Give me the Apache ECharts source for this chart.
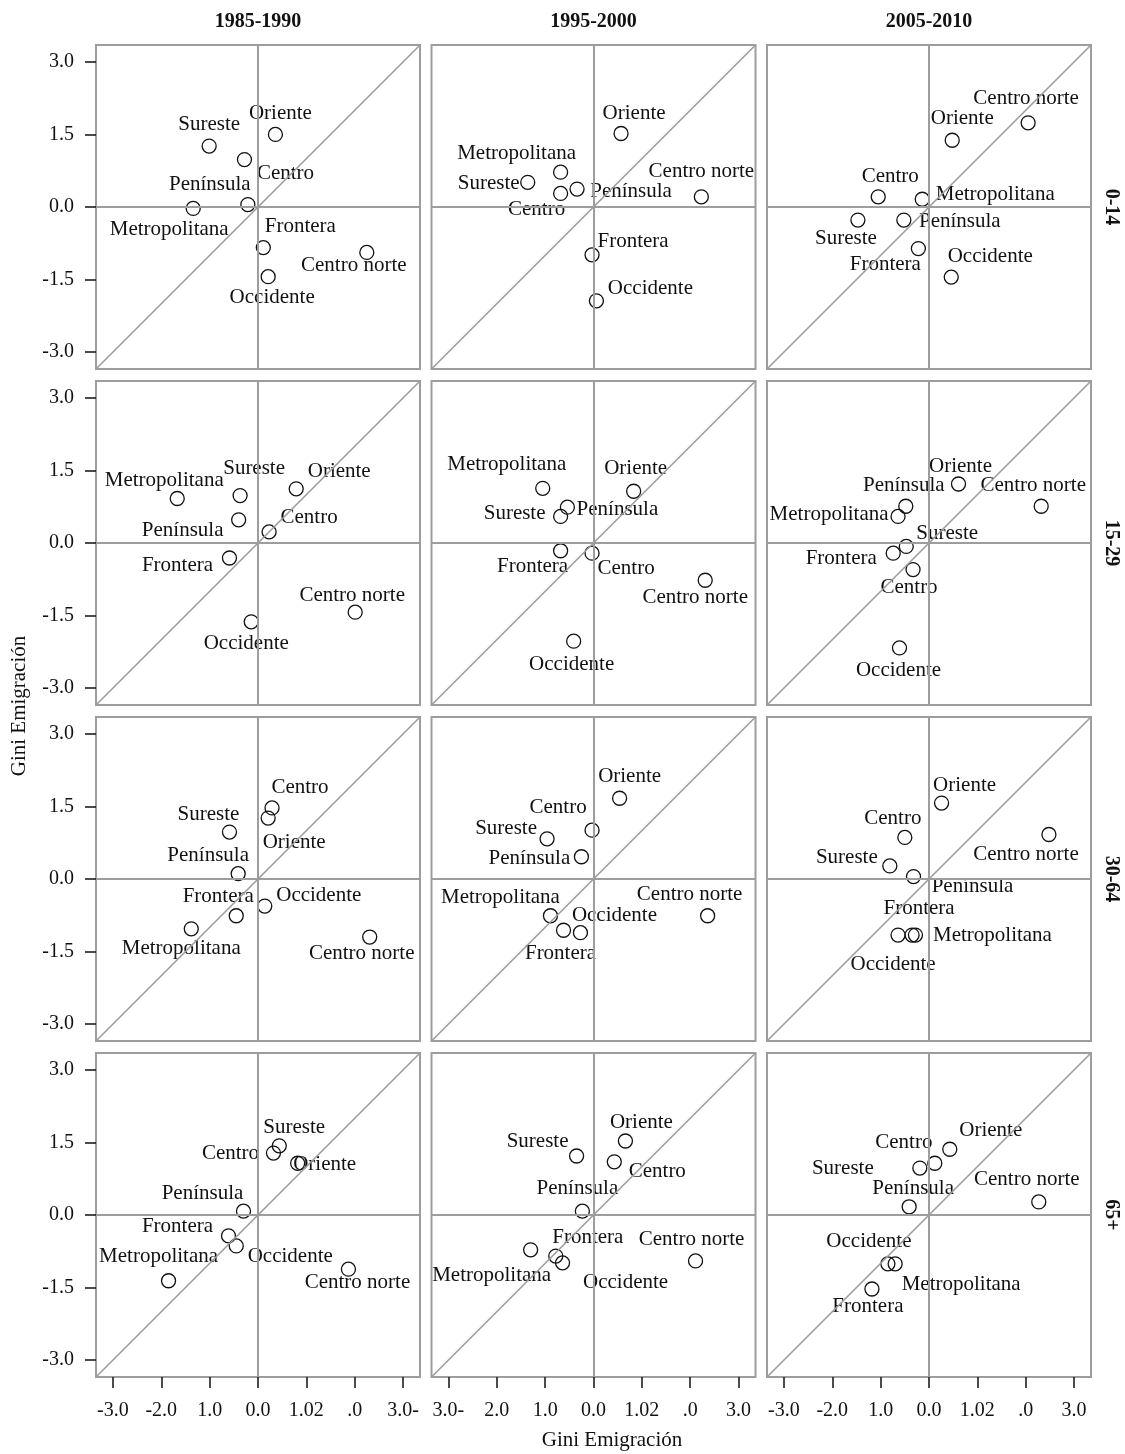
<!DOCTYPE html>
<html>
<head>
<meta charset="utf-8">
<script src="https://cdn.jsdelivr.net/npm/echarts@6/dist/echarts.min.js"></script>
<style>
html,body{margin:0;padding:0;background:#fff;}
#chart{width:1125px;height:1454px;}
</style>
</head>
<body>
<div id="chart"></div>
<script>
// ---------- DATA ----------
const regions = ['Centro','Centro norte','Frontera','Metropolitana','Occidente','Oriente','Península','Sureste'];
const periods = ['1985-1990','1995-2000','2005-2010'];
const ageGroups = ['0-14','15-29','30-64','65+'];
const axisTitle = 'Gini Emigración';

const yTickValues = [-3, -1.5, 0, 1.5, 3];
const yTickLabels = ['-3.0','-1.5','0.0','1.5','3.0'];
const xTickValues = [-3, -2, -1, 0, 1, 2, 3];
const xTickLabelsP1 = ['-3.0','-2.0','1.0','0.0','1.02','.0','3.0-'];
const xTickLabelsP2 = ['3.0-','2.0','1.0','0.0','1.02','.0','3.0'];
const xTickLabelsP3 = ['-3.0','-2.0','1.0','0.0','1.02','.0','3.0'];

// values in region order: Centro, Centro norte, Frontera, Metropolitana, Occidente, Oriente, Península, Sureste
const x_0_14_1985 = [-0.28, 2.25, 0.11, -1.34, 0.21, 0.36, -0.21, -1.01];
const y_0_14_1985 = [0.98, -0.94, -0.84, -0.03, -1.44, 1.50, 0.05, 1.26];
const x_0_14_1995 = [-0.68, 2.23, -0.03, -0.68, 0.06, 0.57, -0.34, -1.36];
const y_0_14_1995 = [0.28, 0.21, -0.99, 0.72, -1.94, 1.52, 0.37, 0.51];
const x_0_14_2005 = [-1.05, 2.05, -0.22, -0.14, 0.46, 0.48, -0.52, -1.47];
const y_0_14_2005 = [0.21, 1.74, -0.86, 0.16, -1.45, 1.38, -0.27, -0.27];

const x_15_29_1985 = [0.23, 2.01, -0.59, -1.67, -0.14, 0.79, -0.40, -0.37];
const y_15_29_1985 = [0.23, -1.43, -0.31, 0.92, -1.63, 1.12, 0.48, 0.98];
const x_15_29_1995 = [-0.03, 2.31, -0.68, -1.05, -0.41, 0.83, -0.54, -0.68];
const y_15_29_1995 = [-0.21, -0.77, -0.16, 1.13, -2.03, 1.07, 0.74, 0.55];
const x_15_29_2005 = [-0.33, 2.32, -0.74, -0.64, -0.61, 0.61, -0.48, -0.47];
const y_15_29_2005 = [-0.55, 0.76, -0.21, 0.55, -2.17, 1.22, 0.76, -0.07];

const x_30_64_1985 = [0.29, 2.31, -0.45, -1.38, 0.14, 0.21, -0.41, -0.59];
const y_30_64_1985 = [1.47, -1.20, -0.76, -1.03, -0.56, 1.26, 0.11, 0.97];
const x_30_64_1995 = [-0.03, 2.36, -0.62, -0.89, -0.27, 0.54, -0.25, -0.96];
const y_30_64_1995 = [1.01, -0.76, -1.06, -0.76, -1.11, 1.67, 0.46, 0.83];
const x_30_64_2005 = [-0.50, 2.48, -0.35, -0.28, -0.64, 0.26, -0.32, -0.81];
const y_30_64_2005 = [0.86, 0.92, -1.16, -1.16, -1.16, 1.57, 0.05, 0.27];

const x_65_1985 = [0.32, 1.87, -0.61, -1.85, -0.45, 0.82, -0.30, 0.44];
const y_65_1985 = [1.28, -1.12, -0.43, -1.36, -0.64, 1.07, 0.08, 1.43];
const x_65_1995 = [0.43, 2.11, -0.78, -1.30, -0.64, 0.66, -0.23, -0.35];
const y_65_1995 = [1.10, -0.95, -0.85, -0.72, -0.99, 1.53, 0.08, 1.22];
const x_65_2005 = [0.12, 2.27, -1.18, -0.70, -0.85, 0.43, -0.41, -0.19];
const y_65_2005 = [1.07, 0.27, -1.53, -1.01, -1.01, 1.36, 0.17, 0.97];

// ---------- LABEL PLACEMENT (pixel offsets of each name from its circle) ----------
const off_0_14_1985 = [[41,14],[-13,13],[37,-21],[-24,21],[4,21],[5,-21],[-38,-20],[0,-22]];
const off_0_14_1995 = [[-24,16],[0,-25],[41,-13],[-44,-19],[54,-12],[13,-20],[54,2],[-39,1]];
const off_0_14_2005 = [[12,-20],[-2,-24],[-33,16],[73,-5],[39,-21],[10,-22],[56,1],[-12,18]];
const off_15_29_1985 = [[40,-14],[-3,-17],[-52,7],[-13,-18],[-5,22],[43,-17],[-56,11],[14,-27]];
const off_15_29_1995 = [[34,15],[-10,17],[-28,16],[-36,-24],[-2,23],[2,-23],[50,2],[-46,-3]];
const off_15_29_2005 = [[-4,18],[-8,-21],[-52,5],[-69,-2],[-1,23],[2,-18],[-2,-21],[41,-13]];
const off_30_64_1985 = [[28,-20],[-8,16],[-18,-19],[-10,20],[54,-11],[26,24],[-30,-18],[-21,-18]];
const off_30_64_1995 = [[-34,-23],[-18,-21],[-3,23],[-50,-18],[34,-17],[10,-22],[-52,2],[-41,-10]];
const off_30_64_2005 = [[-12,-19],[-23,20],[7,-27],[77,0],[-5,29],[23,-18],[59,10],[-43,-8]];
const off_65_1985 = [[-43,0],[9,13],[-51,-9],[-10,-24],[54,11],[27,1],[-41,-18],[15,-18]];
const off_65_1995 = [[43,10],[-4,-21],[32,-19],[-39,26],[63,20],[16,-19],[-5,-23],[-39,-15]];
const off_65_2005 = [[-31,-21],[-12,-22],[-4,17],[66,21],[-19,-22],[41,-19],[4,-18],[-77,0]];

const panels = [
  [[x_0_14_1985,y_0_14_1985,off_0_14_1985],[x_0_14_1995,y_0_14_1995,off_0_14_1995],[x_0_14_2005,y_0_14_2005,off_0_14_2005]],
  [[x_15_29_1985,y_15_29_1985,off_15_29_1985],[x_15_29_1995,y_15_29_1995,off_15_29_1995],[x_15_29_2005,y_15_29_2005,off_15_29_2005]],
  [[x_30_64_1985,y_30_64_1985,off_30_64_1985],[x_30_64_1995,y_30_64_1995,off_30_64_1995],[x_30_64_2005,y_30_64_2005,off_30_64_2005]],
  [[x_65_1985,y_65_1985,off_65_1985],[x_65_1995,y_65_1995,off_65_1995],[x_65_2005,y_65_2005,off_65_2005]]
];
const xTickLabelSets = [xTickLabelsP1, xTickLabelsP2, xTickLabelsP3];

// ---------- LAYOUT / STYLE ----------
const R = 3.35;
const FONT = '"Liberation Serif", "DejaVu Serif", serif';
const INK = '#111111';
const GRAY = '#9d9d9d';
const colLeft = [96, 431.5, 767];
const rowTop = [45, 381, 717, 1053];
const SIZE = 324;

const grids = [], xAxes = [], yAxes = [], series = [];
let idx = 0;
for (let r = 0; r < 4; r++) {
  for (let c = 0; c < 3; c++) {
    grids.push({
      left: colLeft[c], top: rowTop[r], width: SIZE, height: SIZE,
      show: true, borderColor: GRAY, borderWidth: 2, backgroundColor: 'transparent', containLabel: false
    });
    const labs = xTickLabelSets[c];
    xAxes.push({
      type: 'value', gridIndex: idx, min: -R, max: R, position: 'bottom',
      axisLine: { show: false, onZero: false }, splitLine: { show: false },
      axisTick: { show: r === 3, length: 11, lineStyle: { color: INK, width: 1.5 }, customValues: xTickValues },
      axisLabel: {
        show: r === 3, margin: 24, color: INK, fontFamily: FONT, fontSize: 20,
        customValues: xTickValues,
        formatter: function (v) { const i = xTickValues.indexOf(Math.round(v)); return i >= 0 ? labs[i] : ''; }
      }
    });
    yAxes.push({
      type: 'value', gridIndex: idx, min: -R, max: R, position: 'left',
      axisLine: { show: false, onZero: false }, splitLine: { show: false },
      axisTick: { show: c === 0, length: 11, lineStyle: { color: INK, width: 1.5 }, customValues: yTickValues },
      axisLabel: {
        show: c === 0, margin: 22, color: INK, fontFamily: FONT, fontSize: 20,
        customValues: yTickValues,
        formatter: function (v) { const i = yTickValues.indexOf(v); return i >= 0 ? yTickLabels[i] : ''; }
      }
    });
    const [xs, ys, offs] = panels[r][c];
    const data = regions.map((name, k) => ({
      name: name,
      value: [xs[k], ys[k]],
      label: { offset: offs[k] }
    }));
    series.push({
      type: 'scatter', xAxisIndex: idx, yAxisIndex: idx,
      symbol: 'circle', symbolSize: 14,
      itemStyle: { color: 'rgba(255,255,255,0)', borderColor: '#111', borderWidth: 1.3, opacity: 1 },
      label: {
        show: true, position: 'inside', formatter: '{b}', opacity: 1,
        color: INK, textBorderWidth: 0, textBorderColor: 'transparent',
        fontFamily: FONT, fontSize: 21, align: 'center', verticalAlign: 'middle'
      },
      emphasis: { disabled: true },
      silent: true,
      data: data,
      markLine: {
        silent: true, symbol: ['none', 'none'], animation: false,
        label: { show: false },
        lineStyle: { color: GRAY, width: 2, type: 'solid' },
        data: [
          { xAxis: 0 },
          { yAxis: 0 },
          [{ coord: [-R, -R], lineStyle: { width: 1.6 } }, { coord: [R, R] }]
        ]
      }
    });
    idx++;
  }
}

const graphics = [];
periods.forEach((p, c) => {
  graphics.push({ type: 'text', x: colLeft[c] + SIZE / 2, y: 22,
    style: { text: p, x: 0, y: 0, textAlign: 'center', textVerticalAlign: 'middle', font: 'bold 20px ' + FONT, fill: INK } });
});
ageGroups.forEach((a, r) => {
  graphics.push({ type: 'text', x: 1111, y: rowTop[r] + SIZE / 2, rotation: -Math.PI / 2,
    style: { text: a, x: 0, y: 0, textAlign: 'center', textVerticalAlign: 'middle', font: 'bold 20px ' + FONT, fill: INK } });
});
graphics.push({ type: 'text', x: 612, y: 1440,
  style: { text: axisTitle, x: 0, y: 0, textAlign: 'center', textVerticalAlign: 'middle', font: '21px ' + FONT, fill: INK } });
graphics.push({ type: 'text', x: 19, y: 706, rotation: Math.PI / 2,
  style: { text: axisTitle, x: 0, y: 0, textAlign: 'center', textVerticalAlign: 'middle', font: '21px ' + FONT, fill: INK } });

const chart = echarts.init(document.getElementById('chart'), null, { renderer: 'canvas' });
chart.setOption({
  backgroundColor: '#ffffff',
  animation: false,
  grid: grids, xAxis: xAxes, yAxis: yAxes, series: series,
  graphic: graphics
});
</script>
</body>
</html>
